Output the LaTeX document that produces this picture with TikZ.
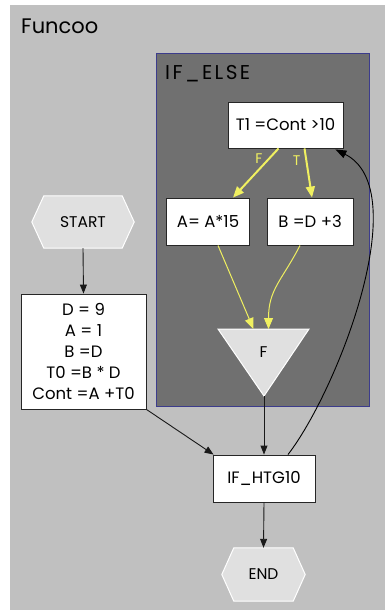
\documentclass[tikz,border=0pt]{standalone}
\usepackage{fontspec}
\setmainfont{Poppins}
\usetikzlibrary{arrows.meta,calc}
\definecolor{outerg}{HTML}{C0C0C0}
\definecolor{innerg}{HTML}{707070}
\definecolor{clblue}{HTML}{3C3C8C}
\definecolor{hexg}{HTML}{E0E0E0}
\definecolor{yel}{HTML}{F0F060}
\tikzset{
  box/.style={draw=black!85, fill=white, line width=0.9pt, inner sep=0pt, align=center, font=\fontsize{16.5}{20}\selectfont},
  hexlabel/.style={inner sep=0pt, font=\fontsize{15.5}{18}\selectfont},
  blk/.style={draw=black!90, line width=0.9pt, -{Triangle[length=9pt,width=7pt]}},
  yelthick/.style={draw=yel, line width=2pt, -{Triangle[length=11pt,width=9pt]}},
  yelthin/.style={draw=yel, line width=1pt, -{Triangle[length=11pt,width=9pt]}},
  hexshape/.style={fill=hexg, draw=white, line width=1pt},
  elabel/.style={text=yel, inner sep=0pt, font=\fontsize{14}{16}\selectfont}
}
\begin{document}
\begin{tikzpicture}[x=1pt,y=-1pt]
\useasboundingbox (0,0) rectangle (385,610);
\fill[white] (0,0) rectangle (385,610);
% outer cluster
\fill[outerg] (10,5) rectangle (385,610);
\node[anchor=west, inner sep=0pt, font=\fontsize{21}{24}\selectfont] (funcao) at (21,26) {Funcoo};
% inner cluster
\draw[fill=innerg, draw=clblue, line width=1pt] (156,54) rectangle (369,406);
\node[anchor=west, inner sep=0pt, font=\fontsize{20}{23}\selectfont\addfontfeatures{LetterSpace=12}] (ifelse) at (165,74) {IF\_ELSE};
% nodes
\node[box, minimum width=115pt, minimum height=46pt] (T1) at (285.5,125) {T1 =Cont >10};
\node[box, minimum width=83pt, minimum height=47pt] (A) at (208,221.5) {A= A*15};
\node[box, minimum width=86pt, minimum height=47pt] (B) at (310,221.5) {B =D +3};
\node[box, minimum width=125pt, minimum height=115pt, font=\fontsize{16.5}{21}\selectfont] (init) at (83.5,351.5) {D = 9\\A = 1\\B =D\\T0 =B * D\\Cont =A +T0};
\node[box, minimum width=102pt, minimum height=47pt] (htg) at (264,478.5) {IF\_HTG10};
% START hexagon
\node[hexlabel, minimum width=102pt, minimum height=52pt] (start) at (83,222) {};
\draw[hexshape] (start.west) -- ($(start.north west)+(12,0)$) -- ($(start.north east)+(-12,0)$) -- (start.east) -- ($(start.south east)+(-12,0)$) -- ($(start.south west)+(12,0)$) -- cycle;
\node[hexlabel] (starttxt) at (start.center) {START};
% END hexagon
\node[hexlabel, minimum width=83pt, minimum height=53pt] (endn) at (263.5,574.5) {};
\draw[hexshape] (endn.west) -- ($(endn.north west)+(12,0)$) -- ($(endn.north east)+(-12,0)$) -- (endn.east) -- ($(endn.south east)+(-12,0)$) -- ($(endn.south west)+(12,0)$) -- cycle;
\node[hexlabel] (endtxt) at (endn.center) {END};
% F triangle
\coordinate (Ftl) at (218,329);
\coordinate (Ftr) at (309,329);
\coordinate (Fbot) at (264,396);
\coordinate (Ftop) at (263.5,329);
\draw[hexshape] (Ftl) -- (Ftr) -- (Fbot) -- cycle;
\node[hexlabel] (Ftxt) at (263.5,352) {F};
% edges
\draw[blk] (start.south) -- (init.north);
\draw[blk] (init.south east) -- ($(htg.north west)+(1,0)$);
\draw[blk] (Fbot) -- (htg.north);
\draw[blk] (htg.south) -- (endn.north);
\draw[blk, -{Triangle[length=11pt,width=8pt]}, draw=black] ($(htg.north)+(24,0)$) .. controls +(50,-65) and +(80,40) .. ($(T1.south east)+(-8,1)$);
\draw[yelthick] ($(T1.south)+(-7,0)$) -- ($(A.north)+(25,0)$) node[pos=0.2, elabel, anchor=east, xshift=-6pt] (lF) {F};
\draw[yelthick] ($(T1.south)+(19,0)$) -- ($(B.north)+(2,0)$) node[pos=0.25, elabel, anchor=east, xshift=-5pt] (lT) {T};
\draw[yelthin] ($(A.south)+(10,0)$) -- ($(Ftop)+(-10,0)$);
\draw[yelthin] ($(B.south)+(-10,0)$) .. controls +(-18,35) and +(0,-40) .. ($(Ftop)+(5,0)$);
\end{tikzpicture}
\end{document}
